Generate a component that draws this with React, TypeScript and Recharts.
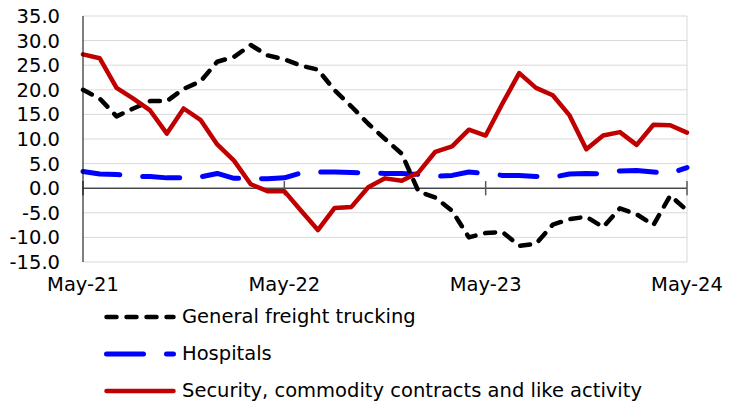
import React from 'react';
import { LineChart, Line, XAxis, YAxis, CartesianGrid, ReferenceLine } from 'recharts';

const months = [
  'May-21', 'Jun-21', 'Jul-21', 'Aug-21', 'Sep-21', 'Oct-21', 'Nov-21', 'Dec-21',
  'Jan-22', 'Feb-22', 'Mar-22', 'Apr-22', 'May-22', 'Jun-22', 'Jul-22', 'Aug-22',
  'Sep-22', 'Oct-22', 'Nov-22', 'Dec-22', 'Jan-23', 'Feb-23', 'Mar-23', 'Apr-23',
  'May-23', 'Jun-23', 'Jul-23', 'Aug-23', 'Sep-23', 'Oct-23', 'Nov-23', 'Dec-23',
  'Jan-24', 'Feb-24', 'Mar-24', 'Apr-24', 'May-24',
];

const freight = [
  20.0, 18.2, 14.6, 16.2, 17.7, 17.7, 20.2, 21.7, 25.7, 26.7, 29.1, 27.0, 26.2,
  24.9, 24.1, 19.9, 16.6, 13.1, 10.0, 7.0, -0.7, -1.9, -4.6, -10.0, -9.1, -8.9,
  -11.7, -11.3, -7.4, -6.3, -5.8, -7.9, -4.1, -5.3, -7.5, -1.5, -4.5,
];

const hospitals = [
  3.4, 2.9, 2.8, 2.4, 2.4, 2.1, 2.1, 2.3, 3.0, 2.0, 2.0, 1.9, 2.1, 3.1, 3.3, 3.3,
  3.2, 3.1, 3.0, 3.0, 2.8, 2.4, 2.6, 3.3, 3.0, 2.6, 2.6, 2.4, 2.2, 2.9, 3.0, 2.9,
  3.5, 3.6, 3.3, 3.0, 4.2,
];

const security = [
  27.2, 26.4, 20.4, 18.2, 15.8, 11.1, 16.2, 13.9, 8.9, 5.6, 0.8, -0.6, -0.6, -4.6,
  -8.5, -4.0, -3.8, 0.2, 2.0, 1.5, 3.2, 7.4, 8.5, 11.9, 10.7, 17.2, 23.4, 20.4,
  18.9, 14.8, 7.9, 10.7, 11.4, 8.8, 12.9, 12.8, 11.3,
];

const yTicks = [-15, -10, -5, 0, 5, 10, 15, 20, 25, 30, 35];
const yearTicks = ['May-21', 'May-22', 'May-23', 'May-24'];

const data = months.map((m, i) => ({
  month: m,
  freight: freight[i],
  hospitals: hospitals[i],
  security: security[i],
}));

const series = [
  { key: 'freight', name: 'General freight trucking', color: '#000000', width: 4.5, dash: '10 10' },
  { key: 'hospitals', name: 'Hospitals', color: '#0000FF', width: 5, dash: '37 23' },
  { key: 'security', name: 'Security, commodity contracts and like activity', color: '#C00000', width: 4.5, dash: undefined as string | undefined },
];

const drawOrder = ['hospitals', 'freight', 'security'];

const FONT = 'DejaVu Sans';

export default function App() {
  return (
    <div style={{ position: 'absolute', left: 0, top: 0, width: 735, height: 406, fontFamily: FONT, background: '#fff' }}>
      <LineChart width={735} height={406} data={data} margin={{ top: 16, right: 48, bottom: 114, left: 0 }}>
        <CartesianGrid vertical={false} stroke="#d9d9d9" strokeWidth={1} />
        <XAxis
          dataKey="month"
          interval={11}
          axisLine={false}
          tickLine={false}
          tickSize={6}
          tickMargin={9}
          height={30}
          tick={{ fill: '#000', fontSize: 19.5, fontFamily: FONT }}
        />
        <YAxis
          domain={[-15, 35]}
          ticks={yTicks}
          interval={0}
          width={83}
          axisLine={{ stroke: '#000', strokeWidth: 1 }}
          tickLine={false}
          tickSize={6}
          tickMargin={17}
          tickFormatter={(v: number) => v.toFixed(1)}
          tick={{ fill: '#000', fontSize: 19.5, fontFamily: FONT }}
        />
        <ReferenceLine x="May-24" stroke="#d9d9d9" strokeWidth={1} />
        <ReferenceLine y={0} stroke="#000" strokeWidth={1} />
        {yearTicks.map((t) => (
          <ReferenceLine
            key={t}
            segment={[{ x: t, y: -1.45 }, { x: t, y: 1.45 }]}
            stroke="#595959"
            strokeWidth={1.5}
          />
        ))}
        {drawOrder.map((k) => {
          const s = series.find((x) => x.key === k)!;
          return (
            <Line
              key={s.key}
              type="linear"
              dataKey={s.key}
              name={s.name}
              stroke={s.color}
              strokeWidth={s.width}
              strokeDasharray={s.dash}
              strokeLinecap="round"
              strokeLinejoin="round"
              dot={false}
              activeDot={false}
              isAnimationActive={false}
            />
          );
        })}
      </LineChart>
      {series.map((s, i) => (
        <div
          key={s.key}
          style={{
            position: 'absolute',
            left: 104,
            top: 317 + i * 37 - 12,
            height: 24,
            display: 'flex',
            alignItems: 'center',
            whiteSpace: 'nowrap',
          }}
        >
          <svg width={72} height={10} style={{ display: 'block' }}>
            <line
              x1={2.5}
              y1={5}
              x2={69.5}
              y2={5}
              stroke={s.color}
              strokeWidth={s.width}
              strokeDasharray={s.dash}
              strokeLinecap="round"
            />
          </svg>
          <span style={{ marginLeft: 6, fontSize: 19.5, fontFamily: FONT, color: '#000', lineHeight: '24px' }}>
            {s.name}
          </span>
        </div>
      ))}
    </div>
  );
}
